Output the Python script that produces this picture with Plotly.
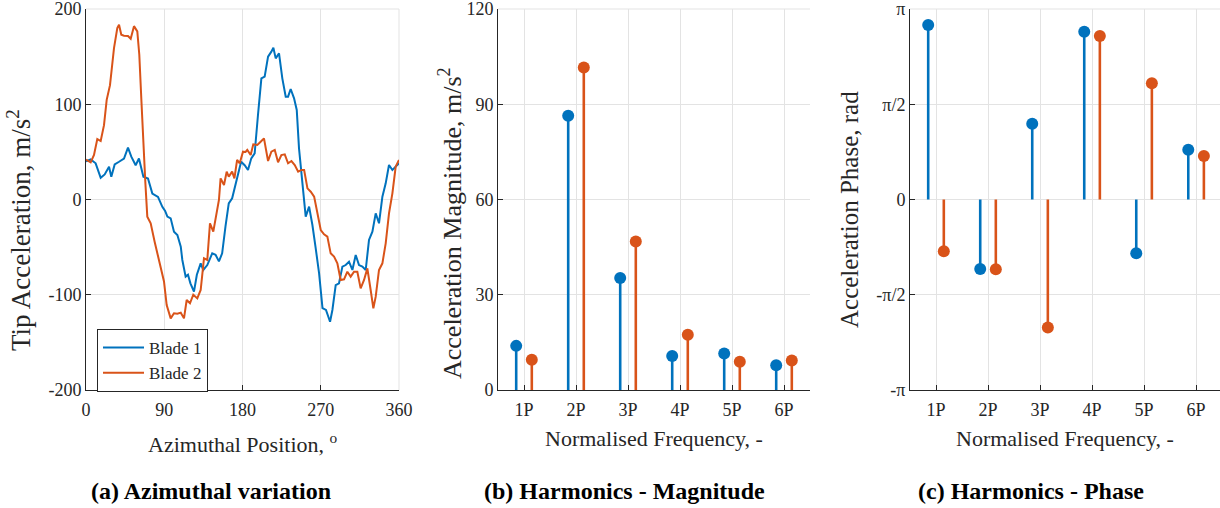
import math
import plotly.graph_objects as go

# ---------------- data ----------------
# Panel (a): azimuthal variation of tip acceleration
blade1_az = [0, 5.4, 11.1, 16.9, 21.5, 26.5, 29.1, 33, 38, 43.7, 48.3, 52.1, 57.1, 60.9, 66, 71.3,
             76.3, 82.8, 87.8, 91, 93.6, 97.4, 101.2, 105.1, 109, 110.8, 114.6, 117.3, 120.1, 124.2,
             127.5, 131.9, 134.9, 139.5, 145.2, 149, 152.9, 156.6, 160.4, 164.2, 168.1, 173.8, 178.4,
             182.5, 186.3, 190.1, 194, 197.8, 201.7, 205.5, 209.4, 213.2, 215.5, 218.2, 222, 225.8,
             229.7, 232.4, 235.4, 239.3, 242.4, 245, 248.9, 252.7, 256.6, 260.4, 264.2, 268.1, 272,
             276, 280.7, 283.4, 287.2, 291, 294.9, 298.7, 302.5, 306.4, 310.2, 314, 317.9, 321.7,
             325.5, 329.4, 333.2, 337, 340.9, 344.7, 348.5, 352.4, 356.2, 360]
blade1_acc = [40, 42, 38, 22.8, 26.3, 34.4, 23.9, 36.8, 39.6, 43, 54.4, 45, 36, 43, 23.9, 22,
              6.3, 2.8, -7.7, -12, -18, -19.8, -33.8, -37.3, -49.5, -63.5, -81, -79, -88, -96.8,
              -79, -67, -74, -68.8, -56.5, -58, -65, -56.5, -28.5, -4, 1.2, 22, 39.7,
              36, 31, 43.2, 48.5, 88.7, 127.2, 129, 150, 155.2, 159.4, 148.2, 153.5, 127.2,
              108, 108, 116, 106.2, 94, 53.7, 18.7, -18, -7.5, -26.8, -51.3, -77.5, -114,
              -116, -128.3, -116, -89.8, -88, -70.5, -68.8, -65.3, -74, -58.3, -68.8, -70.5, -74,
              -42.5, -33.8, -14.5, -25, 3, 17, 36.2, 31, 34.5, 38]

blade2_az = [0, 2.5, 5.4, 9.2, 13, 16.9, 20.7, 23.8, 27.6, 32.2, 36, 38, 40.6, 43.7, 48.3, 51.4,
             55.2, 59, 61.3, 63.6, 65.9, 68.2, 70.5, 74.4, 79, 82.8, 85, 89.7, 92.8, 97.4, 101.2,
             105.1, 109, 112.7, 115.8, 119.6, 123.4, 128, 131.9, 135.7, 139.5, 142.6, 146.4, 150.2,
             152.9, 154.8, 158.7, 161.8, 164.2, 168.1, 170.7, 173.8, 176.8, 180.6, 183.5, 185.5,
             189.4, 192.4, 197, 200.9, 204.7, 209.4, 213.2, 217.1, 220.9, 224.7, 228.6, 232.4,
             236.3, 240.1, 244, 247.8, 250.9, 254.7, 258.5, 262.4, 266.2, 270, 273.8, 277.6, 281.4,
             285.3, 289.1, 292.9, 296.8, 300.6, 304.4, 308.3, 312.1, 315.9, 319.8, 323.6, 327.4,
             330.5, 333.2, 337, 340.9, 344.7, 348.5, 352.4, 356.2, 360]
blade2_acc = [42, 41, 39, 46.7, 63.5, 61.4, 78, 104.6, 120, 159, 180, 183.5, 173, 172, 171.6, 168.8,
              182, 176.5, 152, 106, 53.7, 18.6, -18, -25, -44.6, -60, -67, -86, -110.8, -124.8, -119.5,
              -120, -118.8, -124.8, -105.5, -109, -100, -103.8, -95, -61.8, -63.5, -25, -33.8, -12.8,
              -0.5, 22.2, 15.2, 29.2, 24, 29.2, 22.2, 41.5, 38, 50.2, 50, 52,
              46.7, 57.9, 57.2, 60.7, 64.2, 40.4, 50.2, 52, 39, 46.7, 47.4, 38,
              40.4, 36.2, 29.2, 31, 31, 11.7, 8.2, 3, -12.8, -32, -36.6, -39, -56.5,
              -60, -67, -84.5, -83.8, -75.8, -81, -75.8, -75.8, -93.3, -84.5, -72.3, -95,
              -114.3, -102, -74, -67, -46, -14.5, 6.5, 34.5, 41.5]

# Panels (b) and (c): harmonics
harmonic_labels = ["1P", "2P", "3P", "4P", "5P", "6P"]
harmonic_order = [1, 2, 3, 4, 5, 6]
mag_blade1 = [13.9, 86.4, 35.3, 10.7, 11.5, 7.8]
mag_blade2 = [9.5, 101.6, 46.8, 17.4, 8.9, 9.3]
phase_blade1 = [2.877, -1.146, 1.251, 2.767, -0.887, 0.821]
phase_blade2 = [-0.854, -1.152, -2.111, 2.695, 1.918, 0.716]

series_names = ["Blade 1", "Blade 2"]
BLUE = "#0072BD"
ORANGE = "#D95319"
TXT = "#262626"
GRID = "#e3e3e3"
FONT = "Liberation Serif, Times New Roman, Times, serif"

W, H = 1220, 508


def fx(p):
    return p / W


def fy(p):
    return 1 - p / H


fig = go.Figure()

# ---- panel (a)
fig.add_trace(go.Scatter(x=blade1_az, y=blade1_acc, mode="lines", name=series_names[0],
                         line=dict(color=BLUE, width=2), xaxis="x", yaxis="y"))
fig.add_trace(go.Scatter(x=blade2_az, y=blade2_acc, mode="lines", name=series_names[1],
                         line=dict(color=ORANGE, width=2), xaxis="x", yaxis="y"))


def add_stems(vals, offset, color, xa, ya):
    xs, ys = [], []
    for h, v in zip(harmonic_order, vals):
        xs += [h + offset, h + offset, None]
        ys += [0, v, None]
    fig.add_trace(go.Scatter(x=xs, y=ys, mode="lines", line=dict(color=color, width=2.6),
                             showlegend=False, xaxis=xa, yaxis=ya, hoverinfo="skip"))
    fig.add_trace(go.Scatter(x=[h + offset for h in harmonic_order], y=vals, mode="markers",
                             marker=dict(color=color, size=12, line=dict(width=0)),
                             showlegend=False, xaxis=xa, yaxis=ya))


OFF = 0.15
add_stems(mag_blade1, -OFF, BLUE, "x2", "y2")
add_stems(mag_blade2, OFF, ORANGE, "x2", "y2")
add_stems(phase_blade1, -OFF, BLUE, "x3", "y3")
add_stems(phase_blade2, OFF, ORANGE, "x3", "y3")

ydom = [fy(390), fy(9)]
common = dict(showline=True, linecolor=TXT, linewidth=1, ticks="inside", ticklen=5,
              tickcolor=TXT, showgrid=True, gridcolor=GRID, gridwidth=1, zeroline=False,
              automargin=False, ticklabeloverflow="allow",
              tickfont=dict(family=FONT, size=18, color=TXT), fixedrange=True)
xcommon = dict(common, ticklabelstandoff=3)

fig.update_layout(
    template="none",
    width=W, height=H, margin=dict(l=0, r=0, t=0, b=0, pad=0),
    paper_bgcolor="white", plot_bgcolor="white",
    font=dict(family=FONT, color=TXT, size=18),
    xaxis=dict(domain=[fx(86), fx(399)], range=[0, 360], tickvals=[0, 90, 180, 270, 360],
               anchor="y", **xcommon),
    yaxis=dict(domain=ydom, range=[-200, 200], tickvals=[-200, -100, 0, 100, 200],
               ticktext=["-200", "-100", "0", "100", "200"], anchor="x", **common),
    xaxis2=dict(domain=[fx(498), fx(810)], range=[0.5, 6.5], tickvals=harmonic_order,
                ticktext=harmonic_labels, anchor="y2", **xcommon),
    yaxis2=dict(domain=ydom, range=[0, 120], tickvals=[0, 30, 60, 90, 120], anchor="x2", **common),
    xaxis3=dict(domain=[fx(910), 1.0], range=[0.5, 6.46], tickvals=harmonic_order,
                ticktext=harmonic_labels, anchor="y3", **xcommon),
    yaxis3=dict(domain=ydom, range=[-math.pi, math.pi],
                tickvals=[-math.pi, -math.pi / 2, 0, math.pi / 2, math.pi],
                ticktext=["-π", "-π/2", "0", "π/2", "π"], anchor="x3", **common),
    legend=dict(x=fx(97), y=fy(329), xanchor="left", yanchor="top", bgcolor="white",
                bordercolor=TXT, borderwidth=1, font=dict(family=FONT, size=17, color=TXT),
                tracegroupgap=0, itemwidth=41),
    showlegend=True,
)

# grid lines at the top edge (and right edge of panel a) that plotly omits at axis ends
shapes = []
for xr, yr in [("x", "y"), ("x2", "y2"), ("x3", "y3")]:
    shapes.append(dict(type="line", xref=xr + " domain", yref=yr + " domain", x0=0, x1=1, y0=1, y1=1,
                       line=dict(color=GRID, width=1), layer="below"))
shapes.append(dict(type="line", xref="x domain", yref="y domain", x0=1, x1=1, y0=0, y1=1,
                   line=dict(color=GRID, width=1), layer="below"))
fig.update_layout(shapes=shapes)

ann = []


def add_text(text, x, y, size, angle=0, bold=False):
    if bold:
        text = "<b>" + text + "</b>"
    ann.append(dict(text=text, x=fx(x), y=fy(y), xref="paper", yref="paper", showarrow=False,
                    xanchor="center", yanchor="middle", textangle=angle,
                    font=dict(family=FONT, size=size, color="black" if bold else TXT)))


add_text("Azimuthal Position, <sup>o</sup>", 243, 443, 22)
add_text("Normalised Frequency, -", 654, 438, 22)
add_text("Normalised Frequency, -", 1065, 438, 22)
add_text("Tip Acceleration, m/s<sup>2</sup>", 19, 230, 27, angle=-90)
add_text("Acceleration Magnitude, m/s<sup>2</sup>", 450, 223, 26, angle=-90)
add_text("Acceleration Phase, rad", 850, 210, 25, angle=-90)
add_text("(a) Azimuthal variation", 211, 491, 24, bold=True)
add_text("(b) Harmonics - Magnitude", 624, 491, 24, bold=True)
add_text("(c) Harmonics - Phase", 1031, 491, 24, bold=True)
fig.update_layout(annotations=ann)

fig.write_html("out.html", config={"displayModeBar": False, "staticPlot": True},
               post_script="document.body.style.margin='0';")
